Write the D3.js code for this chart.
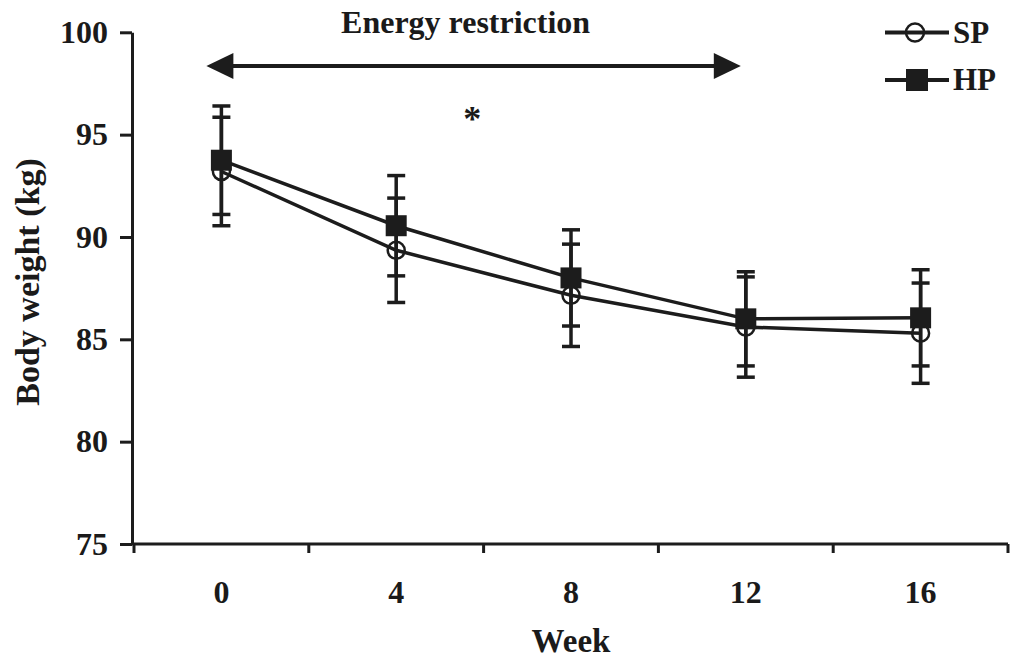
<!DOCTYPE html>
<html>
<head>
<meta charset="utf-8">
<script src="https://cdn.jsdelivr.net/npm/d3@7"></script>
<style>
  html, body { margin: 0; padding: 0; background: #fff; }
  svg { display: block; }
  text { font-family: "Liberation Serif", "Times New Roman", serif; font-weight: bold; fill: #1a1a1a; }
</style>
</head>
<body>
<svg id="chart" width="1010" height="659"></svg>
<script>
// ---- data ----
const weeks = ["0", "4", "8", "12", "16"];
const spMean = [93.2, 89.35, 87.15, 85.6, 85.3];
const spErr  = [2.65, 2.55, 2.5, 2.45, 2.45];
const hpMean = [93.75, 90.55, 88.0, 86.0, 86.05];
const hpErr  = [2.65, 2.45, 2.35, 2.3, 2.35];
const yTicks = [75, 80, 85, 90, 95, 100];
const seriesNames = ["SP", "HP"];
const annotationTitle = "Energy restriction";
const annotationLevel = 98.35;   // y value of the arrow
const starLabel = "*";

// ---- layout ----
const ink = "#1c1c1c";
const svg = d3.select("#chart");
const x = d3.scaleBand().domain(weeks).range([134, 1008]).paddingInner(0).paddingOuter(0);
const y = d3.scaleLinear().domain([75, 100]).range([544, 32.3]);
const cx = d => x(d) + x.bandwidth() / 2;

// y axis
const yAxis = svg.append("g").attr("transform", "translate(132,0)")
  .call(d3.axisLeft(y).tickValues(yTicks).tickSize(12).tickSizeOuter(0).tickPadding(12));
yAxis.select(".domain").attr("stroke", ink).attr("stroke-width", 3);
yAxis.selectAll(".tick line").attr("stroke", ink).attr("stroke-width", 3);
yAxis.selectAll(".tick text").style("font-size", "32px").attr("fill", ink)
  .style("font-family", '"Liberation Serif", serif').style("font-weight", "bold");

// x axis
const xAxis = svg.append("g").attr("transform", `translate(0,${y(75)})`)
  .call(d3.axisBottom(x).tickSize(0).tickSizeOuter(0).tickPadding(36));
xAxis.select(".domain").attr("stroke", ink).attr("stroke-width", 3)
  .attr("d", `M132,0H${x.range()[1]}`);
xAxis.selectAll(".tick text").style("font-size", "32px").attr("fill", ink)
  .style("font-family", '"Liberation Serif", serif').style("font-weight", "bold");
const bounds = weeks.map(d => x(d)).concat([x.range()[1]]);
xAxis.selectAll("line.bound").data(bounds).join("line").attr("class", "bound")
  .attr("x1", d => d).attr("x2", d => d).attr("y1", 0).attr("y2", 9)
  .attr("stroke", ink).attr("stroke-width", 3);

// axis titles
svg.append("text").attr("x", cx("8")).attr("y", 652).attr("text-anchor", "middle")
  .style("font-size", "33px").text("Week");
svg.append("text").attr("transform", `translate(39,282) rotate(-90)`)
  .attr("text-anchor", "middle").style("font-size", "34px").text("Body weight (kg)");

// annotation arrow
const ay = y(annotationLevel);
const ax1 = cx("0") - 15, ax2 = cx("12") - 5;
svg.append("line").attr("x1", ax1 + 10).attr("x2", ax2 - 10).attr("y1", ay).attr("y2", ay)
  .attr("stroke", ink).attr("stroke-width", 4);
svg.append("path").attr("d", `M${ax1},${ay}L${ax1 + 27},${ay - 13}L${ax1 + 27},${ay + 13}Z`).attr("fill", ink);
svg.append("path").attr("d", `M${ax2},${ay}L${ax2 - 27},${ay - 13}L${ax2 - 27},${ay + 13}Z`).attr("fill", ink);
svg.append("text").attr("x", (ax1 + ax2) / 2 - 8).attr("y", 33).attr("text-anchor", "middle")
  .style("font-size", "32px").text(annotationTitle);
svg.append("text").attr("x", cx("4") + 0.435 * x.step()).attr("y", 131).attr("text-anchor", "middle")
  .style("font-size", "36px").text(starLabel);

// series
const sp = weeks.map((w, i) => ({ w, m: spMean[i], e: spErr[i] }));
const hp = weeks.map((w, i) => ({ w, m: hpMean[i], e: hpErr[i] }));
const capW = 18;

function errorBars(data) {
  const g = svg.append("g").attr("stroke", ink).attr("stroke-width", 3.5);
  g.selectAll("line.v").data(data).join("line").attr("class", "v")
    .attr("x1", d => cx(d.w)).attr("x2", d => cx(d.w))
    .attr("y1", d => y(d.m - d.e)).attr("y2", d => y(d.m + d.e));
  g.selectAll("line.t").data(data).join("line").attr("class", "t")
    .attr("x1", d => cx(d.w) - capW / 2).attr("x2", d => cx(d.w) + capW / 2)
    .attr("y1", d => y(d.m + d.e)).attr("y2", d => y(d.m + d.e));
  g.selectAll("line.b").data(data).join("line").attr("class", "b")
    .attr("x1", d => cx(d.w) - capW / 2).attr("x2", d => cx(d.w) + capW / 2)
    .attr("y1", d => y(d.m - d.e)).attr("y2", d => y(d.m - d.e));
}
errorBars(sp);
errorBars(hp);

const line = d3.line().x(d => cx(d.w)).y(d => y(d.m));
svg.append("path").datum(sp).attr("d", line).attr("fill", "none").attr("stroke", ink).attr("stroke-width", 3.5);
svg.append("path").datum(hp).attr("d", line).attr("fill", "none").attr("stroke", ink).attr("stroke-width", 3.5);

svg.append("g").selectAll("circle").data(sp).join("circle")
  .attr("cx", d => cx(d.w)).attr("cy", d => y(d.m)).attr("r", 8.5)
  .attr("fill", "none").attr("stroke", ink).attr("stroke-width", 2.5);
svg.append("g").selectAll("rect").data(hp).join("rect")
  .attr("x", d => cx(d.w) - 10.5).attr("y", d => y(d.m) - 10.5).attr("width", 21).attr("height", 21)
  .attr("fill", ink);

// legend
const lg = svg.append("g");
const legendRows = [{ name: seriesNames[0], ly: 32.5, shape: "circle" }, { name: seriesNames[1], ly: 80, shape: "square" }];
legendRows.forEach(r => {
  lg.append("line").attr("x1", 885).attr("x2", 949).attr("y1", r.ly).attr("y2", r.ly)
    .attr("stroke", ink).attr("stroke-width", 4);
  if (r.shape === "circle") {
    lg.append("circle").attr("cx", 915).attr("cy", r.ly).attr("r", 9)
      .attr("fill", "none").attr("stroke", ink).attr("stroke-width", 2.5);
  } else {
    lg.append("rect").attr("x", 906).attr("y", r.ly - 11).attr("width", 22).attr("height", 22).attr("fill", ink);
  }
  lg.append("text").attr("x", 953).attr("y", r.ly + 10).style("font-size", "31px").text(r.name);
});
</script>
</body>
</html>
